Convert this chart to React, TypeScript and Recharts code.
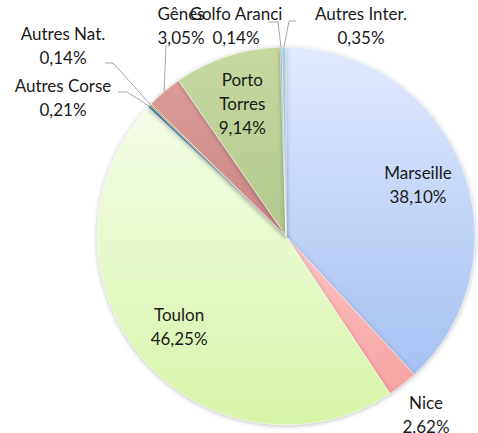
import { PieChart, Pie, Cell } from "recharts";

// Répartition du trafic passagers par port (en %)
const ports = [
  "Marseille",
  "Nice",
  "Toulon",
  "Autres Corse",
  "Autres Nat.",
  "Gênes",
  "Porto Torres",
  "Golfo Aranci",
  "Autres Inter.",
];
const shares = [38.1, 2.62, 46.25, 0.21, 0.14, 3.05, 9.14, 0.14, 0.35];

const data = ports.map((name, i) => ({ name, value: shares[i] }));

// gradient stops (top, bottom) for each slice
const fills: Record<string, [string, string]> = {
  Marseille: ["#e1e9fc", "#a6c1f4"],
  Nice: ["#ffc4c4", "#f7a2a2"],
  Toulon: ["#f5fdea", "#d6f4a6"],
  "Autres Corse": ["#4f81bd", "#4f81bd"],
  "Autres Nat.": ["#9bbb59", "#9bbb59"],
  "Gênes": ["#dc9b99", "#c98585"],
  "Porto Torres": ["#c6d9a0", "#b1c78c"],
  "Golfo Aranci": ["#b3a2c7", "#a08cb8"],
  "Autres Inter.": ["#9fd2e2", "#8cc4da"],
};

// where each label goes; callouts are offsets from the pie centre
type Layout =
  | { kind: "polar"; r: number }
  | { kind: "callout"; tx: number; ty: number; ax: number; ay: number; ex: number; ey: number };

const layout: Record<string, Layout> = {
  Marseille: { kind: "polar", r: 0.75 },
  Nice: { kind: "polar", r: 1.2 },
  Toulon: { kind: "polar", r: 0.74 },
  "Porto Torres": { kind: "polar", r: 0.74 },
  "Autres Corse": { kind: "callout", tx: -223, ty: -139, ax: -168, ay: -144, ex: -159, ey: -144 },
  "Autres Nat.": { kind: "callout", tx: -223, ty: -191, ax: -181, ay: -173, ex: -173, ey: -173 },
  "Gênes": { kind: "callout", tx: -105, ty: -211, ax: -120, ay: -191, ex: -120, ey: -191 },
  "Golfo Aranci": { kind: "callout", tx: -50, ty: -211, ax: -17, ay: -214, ex: -8, ey: -214 },
  "Autres Inter.": { kind: "callout", tx: 75, ty: -211, ax: 10, ay: -215, ex: 3, ey: -215 },
};

const RAD = Math.PI / 180;
const LINE_H = 24;

const fmt = (v: number) => v.toFixed(2).replace(".", ",") + "%";

const renderLabel = (props: any) => {
  const { cx, cy, midAngle, outerRadius, name, value } = props;
  const cfg = layout[name];
  const lines = name === "Porto Torres" ? ["Porto", "Torres", fmt(value)] : [name, fmt(value)];
  let x = 0;
  let y = 0;
  let leader = null;
  if (cfg.kind === "polar") {
    const r = outerRadius * cfg.r;
    x = cx + r * Math.cos(-midAngle * RAD);
    y = cy + r * Math.sin(-midAngle * RAD);
  } else {
    x = cx + cfg.tx;
    y = cy + cfg.ty;
    const px = cx + outerRadius * Math.cos(-midAngle * RAD);
    const py = cy + outerRadius * Math.sin(-midAngle * RAD);
    leader = (
      <polyline
        points={`${px},${py} ${cx + cfg.ex},${cy + cfg.ey} ${cx + cfg.ax},${cy + cfg.ay}`}
        fill="none"
        stroke="#a6a6a6"
        strokeWidth={1}
      />
    );
  }
  const top = y - ((lines.length - 1) * LINE_H) / 2;
  return (
    <g key={`lbl-${name}`}>
      {leader}
      <text
        x={x}
        y={top}
        textAnchor="middle"
        dominantBaseline="central"
        fill="#1a1a1a"
        fontSize={17}
        fontFamily="Lato, 'Open Sans', sans-serif"
      >
        {lines.map((l, i) => (
          <tspan key={i} x={x} dy={i === 0 ? 0 : LINE_H}>
            {l}
          </tspan>
        ))}
      </text>
    </g>
  );
};

export default function App() {
  return (
    <div style={{ position: "absolute", left: 0, top: 0, background: "#fff" }}>
      <PieChart width={478} height={433} margin={{ top: 0, right: 0, bottom: 0, left: 0 }}>
        <defs>
          {ports.map((p, i) => (
            <linearGradient key={p} id={`grad-${i}`} x1="0" y1="0" x2="0" y2="1">
              <stop offset="0%" stopColor={fills[p][0]} />
              <stop offset="100%" stopColor={fills[p][1]} />
            </linearGradient>
          ))}
        </defs>
        <Pie
          data={data}
          dataKey="value"
          nameKey="name"
          cx={286}
          cy={236}
          outerRadius={189}
          startAngle={90}
          endAngle={-270}
          stroke="#ffffff"
          strokeWidth={0.6}
          label={renderLabel}
          labelLine={false}
          isAnimationActive={false}
          style={{ filter: "drop-shadow(0 1px 2px rgba(0,0,0,0.25))" }}
        >
          {data.map((entry, index) => (
            <Cell key={`cell-${index}`} fill={`url(#grad-${index})`} />
          ))}
        </Pie>
      </PieChart>
    </div>
  );
}
